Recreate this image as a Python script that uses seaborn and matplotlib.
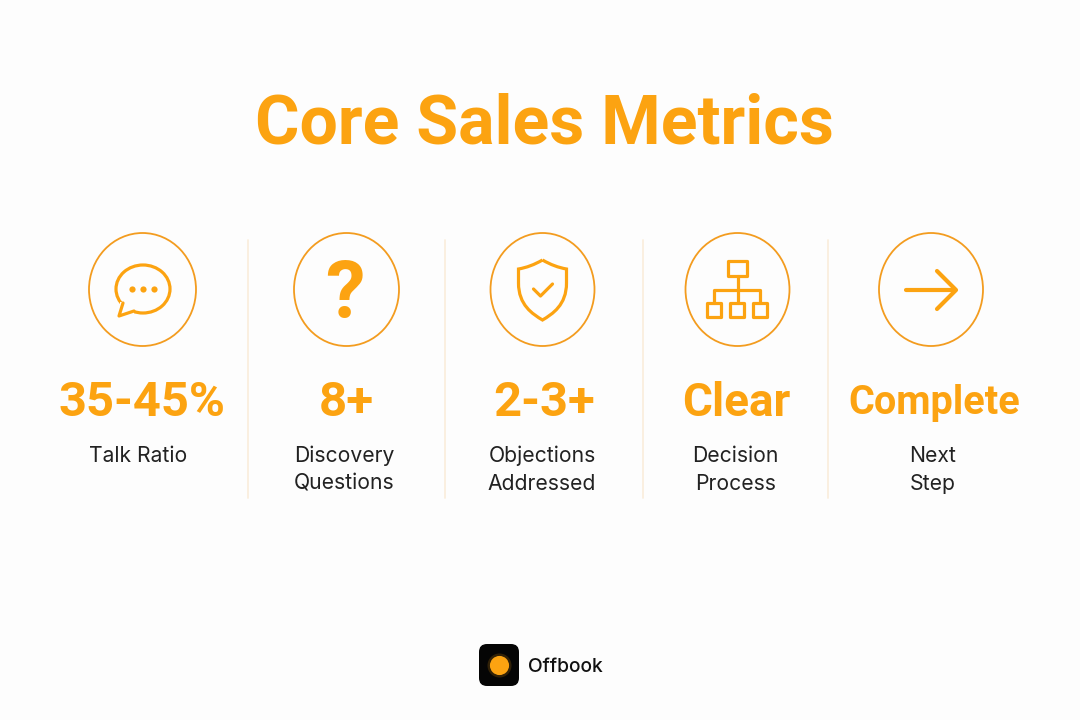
import matplotlib
matplotlib.use("Agg")
import matplotlib.pyplot as plt
import seaborn as sns
from matplotlib.patches import Ellipse, FancyBboxPatch, PathPatch, Rectangle
from matplotlib.path import Path

title_text = "Core Sales Metrics"
metric_values = ["35-45%", "8+", "2-3+", "Clear", "Complete"]
metric_labels = ["Talk Ratio", "Discovery\nQuestions", "Objections\nAddressed", "Decision\nProcess", "Next\nStep"]
brand_name = "Offbook"

ORANGE = "#FCA311"
RING = "#F39C1F"
BG = "#FDFDFD"
DIV = "#FAEEDD"

sns.set_theme(style="white")
plt.rcParams["font.family"] = ["Inter", "DejaVu Sans"]

fig = plt.figure(figsize=(10.8, 7.2), dpi=100, facecolor=BG)
ax = fig.add_axes([0, 0, 1, 1])
ax.set_xlim(0, 1080)
ax.set_ylim(720, 0)
ax.axis("off")

centers = [142.5, 346.5, 542.5, 737.5, 931]
ring_w = [107, 105, 104, 104, 104]
value_x = [142.5, 346, 544, 736.5, 934]
value_sizes = [35.2, 35.5, 35.2, 33, 28.5]
label_x = [138, 344.5, 542, 735.5, 933]

ax.text(544, 125, title_text, ha="center", va="center", fontsize=49, fontweight="bold",
        family=["Roboto", "DejaVu Sans"], color=ORANGE)

for x in [247.5, 444.5, 642.5, 828]:
    ax.plot([x, x], [240, 498], color=DIV, lw=1.3)

for c, w, v, vx, lx, lab, fs in zip(centers, ring_w, metric_values, value_x, label_x, metric_labels, value_sizes):
    ax.add_patch(Ellipse((c, 289.5), w, 113, fill=False, ec=RING, lw=1.3))
    ax.text(vx, 403.5, v, ha="center", va="center", fontsize=fs, fontweight="bold",
            family=["Roboto", "DejaVu Sans"], color=ORANGE)
    for i, line in enumerate(lab.split("\n")):
        ax.text(lx, 455.5 + 28 * i, line, ha="center", va="center", fontsize=15.2, color="#222222")

LW = 2.3
# speech bubble
bubble = Ellipse((143, 289), 54, 48, fill=False, ec=ORANGE, lw=LW)
ax.add_patch(bubble)
ax.add_patch(Rectangle((120, 302), 14, 14, fc=BG, ec="none", zorder=2))
ax.plot([123, 119, 134], [303, 316, 311], color=ORANGE, lw=LW, solid_joinstyle="round", zorder=3)
ax.scatter([132, 143, 154], [289, 289, 289], s=20, color=ORANGE, zorder=3, lw=0)

# question mark
ax.text(345, 296, "?", ha="center", va="center", fontsize=57, fontweight="bold",
        family=["Roboto", "DejaVu Sans"], color=ORANGE)

# shield
sx, sy = 542.5, 291
verts = [(sx, sy-31), (sx+12, sy-24), (sx+24, sy-22), (sx+24, sy-8), (sx+24, sy+14), (sx+10, sy+23), (sx, sy+29),
         (sx-10, sy+23), (sx-24, sy+14), (sx-24, sy-8), (sx-24, sy-22), (sx-12, sy-24), (sx, sy-31)]
codes = [Path.MOVETO, Path.CURVE3, Path.CURVE3, Path.LINETO, Path.CURVE4, Path.CURVE4, Path.CURVE4,
         Path.CURVE4, Path.CURVE4, Path.CURVE4, Path.LINETO, Path.CURVE3, Path.CURVE3]
ax.add_patch(PathPatch(Path(verts, codes), fill=False, ec=ORANGE, lw=LW))
ax.plot([sx-9, sx-2, sx+10], [sy-2, sy+5, sy-7], color=ORANGE, lw=LW, solid_capstyle="round", solid_joinstyle="round")

# org chart
def box(x, y, w, h):
    ax.add_patch(Rectangle((x, y), w, h, fill=False, ec=ORANGE, lw=LW, joinstyle="round"))
box(728, 261, 19, 15)
for x in [707, 730, 753]:
    box(x, 303, 14, 14)
ax.plot([737.5, 737.5], [276, 303], color=ORANGE, lw=LW)
ax.plot([714, 714, 760, 760], [303, 290, 290, 303], color=ORANGE, lw=LW)

# arrow
ax.plot([906, 955], [290, 290], color=ORANGE, lw=3, solid_capstyle="round")
ax.plot([937, 956, 937], [271, 290, 309], color=ORANGE, lw=3, solid_capstyle="round", solid_joinstyle="round")

# logo
ax.add_patch(FancyBboxPatch((485, 650), 28, 30, boxstyle="round,pad=6,rounding_size=8", fc="#050505", ec="none"))
ax.scatter([499], [665], s=300, color=ORANGE, lw=0, zorder=3, alpha=0.18)
ax.scatter([499], [665], s=190, color=ORANGE, lw=0, zorder=4)
ax.text(528, 667, brand_name, ha="left", va="center", fontsize=13.8, fontweight="medium", color="#111111")

fig.savefig("out.png", dpi=100, facecolor=BG)
